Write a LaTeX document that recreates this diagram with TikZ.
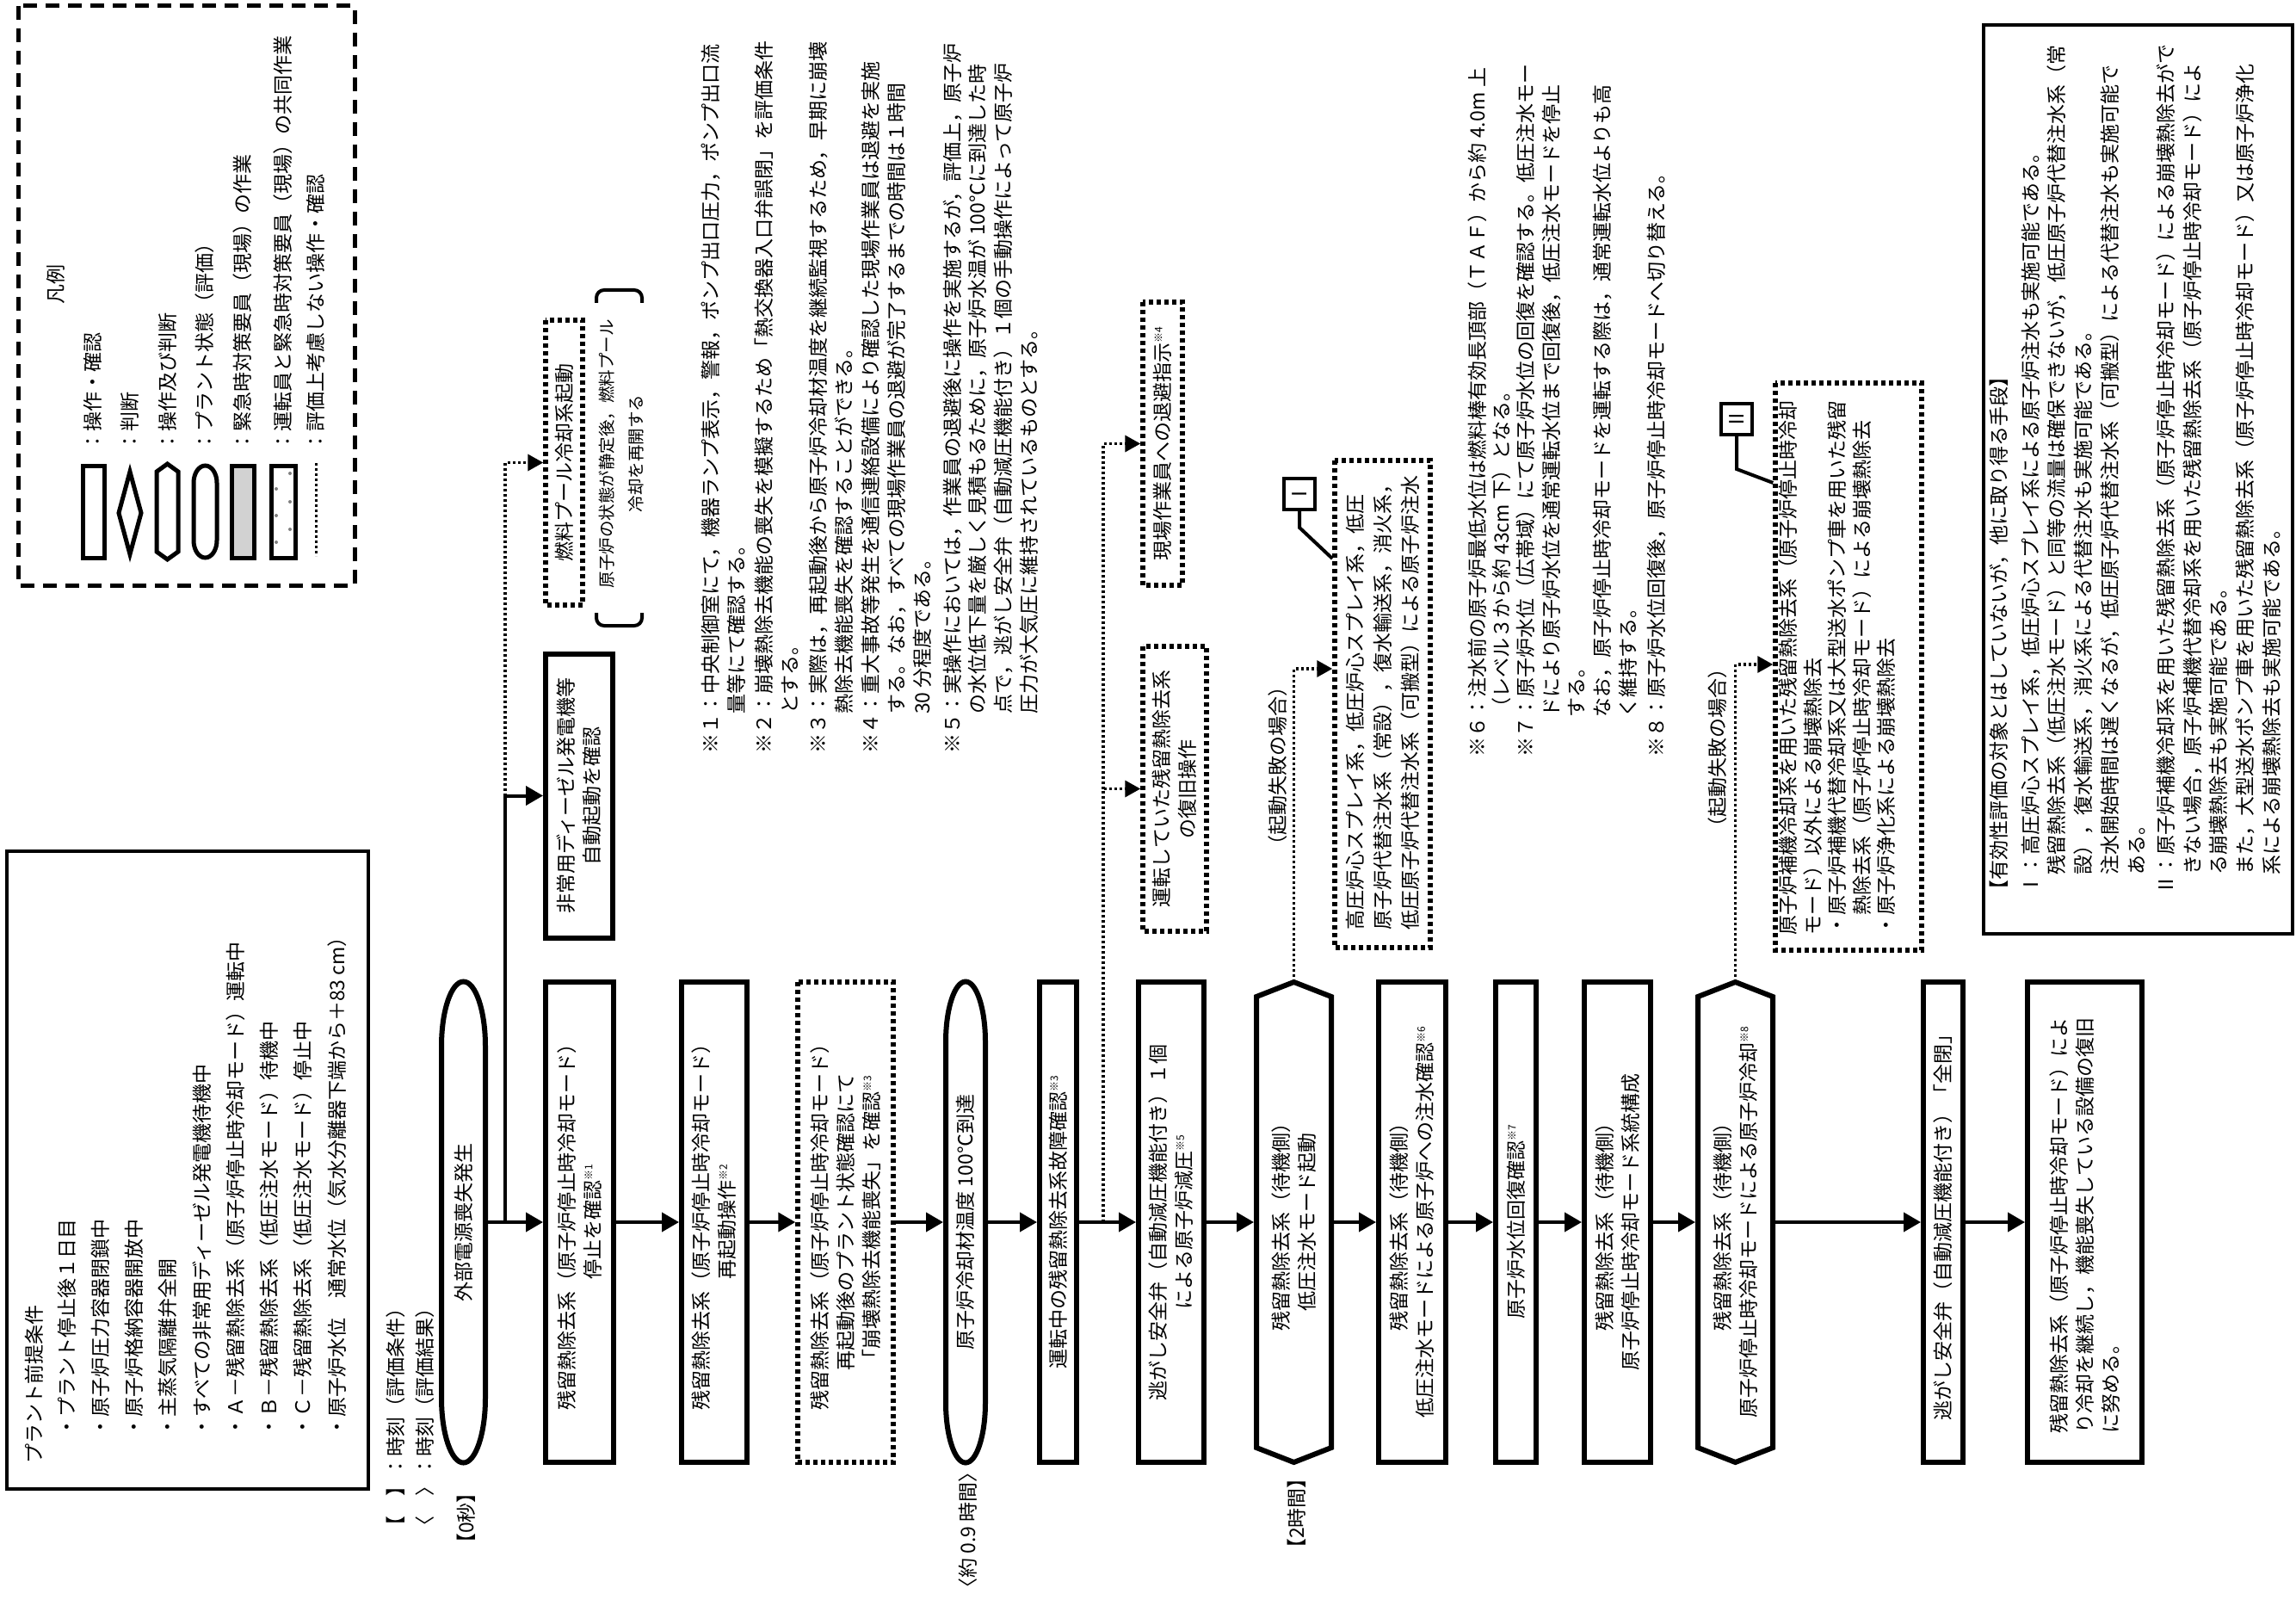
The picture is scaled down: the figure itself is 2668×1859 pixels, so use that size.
\documentclass[tikz,border=0pt]{standalone}
\usepackage{fontspec}
\setmainfont{Noto Sans CJK JP}
\usetikzlibrary{arrows.meta}
\XeTeXlinebreaklocale "ja"
\XeTeXlinebreakskip=0pt plus 4pt
\newcommand{\nref}[1]{\raisebox{9pt}{\fontsize{12}{12}\selectfont ※#1}}
\newcommand{\ovalbox}[5]{\draw[outline] (#1-#3,#2-#4) -- (#1-#3,#2+#4) arc[start angle=180,end angle=0,x radius=#3,y radius=#5] -- (#1+#3,#2-#4) arc[start angle=0,end angle=-180,x radius=#3,y radius=#5] -- cycle;}
\newcommand{\hexbox}[5]{\draw[outline] (#1-#3,#2-#4) -- (#1,#2-#4-#5) -- (#1+#3,#2-#4) -- (#1+#3,#2+#4) -- (#1,#2+#4+#5) -- (#1-#3,#2+#4) -- cycle;}
\begin{document}
\begin{tikzpicture}[x=1pt,y=-1pt,
  every node/.style={font=\fontsize{23}{30}\selectfont,inner sep=0pt},
  outline/.style={line width=6pt},
  flowbox/.style={rotate=90,draw,line width=6pt,minimum width=558pt,align=center},
  dotbox/.style={rotate=90,draw,line width=5.5pt,dash pattern=on 5pt off 4pt,align=center},
  bare/.style={rotate=90,outer sep=3pt,align=center},
  lbl/.style={rotate=90,anchor=west},
  txt/.style={rotate=90,anchor=north west,align=left},
  arr/.style={line width=4pt,-{Triangle[length=20pt,width=22pt]}},
  dotarr/.style={line width=3.5pt,dash pattern=on 3pt off 3pt,-{Triangle[length=18pt,width=19pt]}},
  leadline/.style={line width=4pt},
  legsym/.style={line width=5pt}]
  \useasboundingbox (0,0) rectangle (2668,1859);
  \fill[white] (0,0) rectangle (2668,1859);

  \draw[line width=5pt,dash pattern=on 16pt off 10pt] (21,7) rectangle (412,680);
  \node[bare] (legtitle) at (65,330) {凡例};
  \draw[legsym] (96,541) rectangle (121,648);
  \draw[legsym] (151,548) -- (164,596) -- (151,644) -- (138,596) -- cycle;
  \draw[legsym] (182,548) -- (194.5,539) -- (207,548) -- (207,641) -- (194.5,650) -- (182,641) -- cycle;
  \draw[legsym] (225,561) -- (225,628) arc[start angle=180,end angle=0,x radius=13.5,y radius=20] -- (252,561) arc[start angle=0,end angle=-180,x radius=13.5,y radius=20] -- cycle;
  \draw[legsym,fill=gray!35] (269,541) rectangle (295,648);
  \draw[legsym] (315,541) rectangle (343,648);
  \foreach \x/\y in {321/568,321/599,321/630,337/550,337/583,337/615}
    \fill[gray] (\x,\y) circle[radius=2];
  \draw[line width=3pt,dash pattern=on 3pt off 3pt] (367,538) -- (367,646);
  \foreach \x/\t [count=\i] in {108/操作・確認,151/判断,195/操作及び判断,238/プラント状態（評価）,282/緊急時対策要員（現場）の作業,329/運転員と緊急時対策要員（現場）の共同作業,367/評価上考慮しない操作・確認}
    \node[lbl] (leg\i) at (\x,525) {：\t};

  \draw[line width=4pt] (8,989) rectangle (428,1730);
  \node[txt] (pretitle) at (28.5,1701) {プラント前提条件};
  \node[txt,font=\fontsize{23}{39.25}\selectfont] (prelist) at (66.5,1670) {・プラント停止後１日目\\・原子炉圧力容器閉鎖中\\・原子炉格納容器開放中\\・主蒸気隔離弁全開\\・すべての非常用ディーゼル発電機待機中\\・Ａ－残留熱除去系（原子炉停止時冷却モード）運転中\\・Ｂ－残留熱除去系（低圧注水モード）待機中\\・Ｃ－残留熱除去系（低圧注水モード）停止中\\・原子炉水位　通常水位（気水分離器下端から＋83 cm）};
  \node[lbl] (keycond) at (460,1785) {【　】：時刻（評価条件）};
  \node[lbl] (keyres) at (494,1785) {〈　〉：時刻（評価結果）};
  \node[lbl] (t0) at (542,1805) {【0秒】};
  \node[lbl] (t09) at (1125,1857) {〈約 0.9 時間〉};
  \node[lbl] (t2h) at (1507,1811) {【2時間】};

  \node[bare,minimum width=559pt,minimum height=51pt] (ext) at (538.5,1420) {外部電源喪失発生};
  \ovalbox{538.5}{1420}{25.5}{204.5}{75}
  \node[flowbox,minimum height=79pt] (chkA) at (673.5,1420) {残留熱除去系（原子炉停止時冷却モード）\\停止を確認\nref{1}};
  \node[flowbox,minimum height=76pt] (restart) at (830,1420) {残留熱除去系（原子炉停止時冷却モード）\\再起動操作\nref{2}};
  \node[dotbox,minimum width=558pt,minimum height=111pt] (lossck) at (982.5,1420) {残留熱除去系（原子炉停止時冷却モード）\\再起動後のプラント状態確認にて\\「崩壊熱除去機能喪失」を確認\nref{3}};
  \node[bare,minimum width=559pt,minimum height=46pt] (temp) at (1122,1420) {原子炉冷却材温度 100℃到達};
  \ovalbox{1122}{1420}{23}{209.5}{70}
  \node[flowbox,minimum height=43pt] (failck) at (1229.5,1420) {運転中の残留熱除去系故障確認\nref{3}};
  \node[flowbox,minimum height=76pt] (srv) at (1361,1420) {逃がし安全弁（自動減圧機能付き）１個\\による原子炉減圧\nref{5}};
  \node[bare,minimum width=524pt,minimum height=87pt] (lpci) at (1503.5,1420) {残留熱除去系（待機側）\\低圧注水モード起動};
  \hexbox{1503.5}{1420}{43.5}{262}{17}
  \node[flowbox,minimum height=78pt] (injck) at (1641,1420) {残留熱除去系（待機側）\\低圧注水モードによる原子炉への注水確認\nref{6}};
  \node[flowbox,minimum height=47pt] (lvlck) at (1761.5,1420) {原子炉水位回復確認\nref{7}};
  \node[flowbox,minimum height=77pt] (sdccfg) at (1879.5,1420) {残留熱除去系（待機側）\\原子炉停止時冷却モード系統構成};
  \node[bare,minimum width=524pt,minimum height=87pt] (sdc) at (2016.5,1420) {残留熱除去系（待機側）\\原子炉停止時冷却モードによる原子炉冷却\nref{8}};
  \hexbox{2016.5}{1420}{43.5}{262}{17}
  \node[flowbox,minimum height=46pt] (srvclose) at (2258,1420) {逃がし安全弁（自動減圧機能付き）「全閉」};
  \node[flowbox,minimum height=133pt,align=left] (recover) at (2422.5,1420) {\hbox to 490pt{残留熱除去系（原子炉停止時冷却モード）によ}\\\hbox to 490pt{り冷却を継続し，機能喪失している設備の復旧}\\に努める。};

  \node[flowbox,minimum width=330pt,minimum height=78pt] (edg) at (673,924.5) {非常用ディーゼル発電機等\\自動起動を確認};
  \node[dotbox,minimum width=331pt,minimum height=43pt] (fpc) at (655.5,537.5) {燃料プール冷却系起動};
  \node[bare,font=\fontsize{19.5}{34}\selectfont] (fpcnote) at (722,527) {原子炉の状態が静定後，燃料プール\\冷却を再開する};
  \draw[line width=4pt,rounded corners=9pt] (693,352) -- (693,337) -- (746,337) -- (746,352);
  \draw[line width=4pt,rounded corners=9pt] (693,712) -- (693,727) -- (746,727) -- (746,712);
  \node[dotbox,minimum width=331pt,minimum height=74pt] (rhrfix) at (1365,916.5) {運転していた残留熱除去系\\の復旧操作};
  \node[dotbox,minimum width=329pt,minimum height=46pt] (evac) at (1351,515.5) {現場作業員への退避指示\nref{4}};
  \node[dotbox,minimum width=566pt,minimum height=111pt,align=left,font=\fontsize{23}{32}\selectfont] (altinj) at (1606.5,818) {\hbox to 525pt{高圧炉心スプレイ系，低圧炉心スプレイ系，低圧}\\\hbox to 525pt{原子炉代替注水系（常設），復水輸送系，消火系，}\\\hbox to 525pt{低圧原子炉代替注水系（可搬型）による原子炉注水}};
  \node[dotbox,minimum width=659pt,minimum height=170pt,align=left,font=\fontsize{23}{28.5}\selectfont] (altrhr) at (2148,774.5) {\hbox to 623pt{原子炉補機冷却系を用いた残留熱除去系（原子炉停止時冷却}\\モード）以外による崩壊熱除去\\\hbox to 623pt{・原子炉補機代替冷却系又は大型送水ポンプ車を用いた残留}\\\hspace*{23pt}熱除去系（原子炉停止時冷却モード）による崩壊熱除去\\・原子炉浄化系による崩壊熱除去\\\mbox{}};
  \node[rotate=90,draw,line width=4pt,minimum size=36pt] (markI) at (1510,574) {Ⅰ};
  \node[rotate=90,draw,line width=4pt,minimum size=36pt] (markII) at (2018,487) {Ⅱ};
  \node[lbl] (fail1) at (1485,994) {（起動失敗の場合）};
  \node[lbl] (fail2) at (1996,973) {（起動失敗の場合）};

  \node[txt] (note1) at (814.5,876) {\hbox to 838pt{※１：中央制御室にて，機器ランプ表示，警報，ポンプ出口圧力，ポンプ出口流}\\\hspace*{46pt}量等にて確認する。};
  \node[txt] (note2) at (876.5,876) {\hbox to 838pt{※２：崩壊熱除去機能の喪失を模擬するため「熱交換器入口弁誤閉」を評価条件}\\\hspace*{46pt}とする。};
  \node[txt] (note3) at (939.5,876) {\hbox to 838pt{※３：実際は，再起動後から原子炉冷却材温度を継続監視するため，早期に崩壊}\\\hspace*{46pt}熱除去機能喪失を確認することができる。};
  \node[txt] (note4) at (1000.5,876) {\hbox to 838pt{※４：重大事故等発生を通信連絡設備により確認した現場作業員は退避を実施}\\\hbox to 838pt{\hspace*{46pt}する。なお，すべての現場作業員の退避が完了するまでの時間は１時間}\\\hspace*{46pt}30 分程度である。};
  \node[txt,font=\fontsize{23}{29.7}\selectfont] (note5) at (1095.5,876) {\hbox to 838pt{※５：実操作においては，作業員の退避後に操作を実施するが，評価上，原子炉}\\\hbox to 838pt{\hspace*{46pt}の水位低下量を厳しく見積もるために，原子炉水温が\hspace{5pt}100℃に到達した時}\\\hbox to 838pt{\hspace*{46pt}点で，逃がし安全弁（自動減圧機能付き）１個の手動操作によって原子炉}\\\hspace*{46pt}圧力が大気圧に維持されているものとする。};
  \node[txt,font=\fontsize{23}{28}\selectfont] (note6) at (1705.5,880) {\hbox to 835pt{※６：注水前の原子炉最低水位は燃料棒有効長頂部（ＴＡＦ）から約\hspace{6pt}4.0m\hspace{6pt}上}\\\hspace*{46pt}（レベル３から約 43cm 下）となる。};
  \node[txt,font=\fontsize{23}{29.75}\selectfont] (note7) at (1761.5,880) {\hbox to 835pt{※７：原子炉水位（広帯域）にて原子炉水位の回復を確認する。低圧注水モー}\\\hbox to 835pt{\hspace*{46pt}ドにより原子炉水位を通常運転水位まで回復後，低圧注水モードを停止}\\\hspace*{46pt}する。\\\hbox to 835pt{\hspace*{46pt}なお，原子炉停止時冷却モードを運転する際は，通常運転水位よりも高}\\\hspace*{46pt}く維持する。};
  \node[txt] (note8) at (1913.5,880) {※８：原子炉水位回復後，原子炉停止時冷却モードへ切り替える。};

  \draw[line width=4pt] (2305,29) rectangle (2664,1085);
  \node[txt] (alttitle) at (2311.5,1046) {【有効性評価の対象とはしていないが，他に取り得る手段】};
  \node[txt,font=\fontsize{23}{30.75}\selectfont] (altI) at (2348.5,1040) {\hbox to 983pt{Ⅰ：高圧炉心スプレイ系，低圧炉心スプレイ系による原子炉注水も実施可能である。}\\\hbox to 983pt{\hspace*{23pt}残留熱除去系（低圧注水モード）と同等の流量は確保できないが，低圧原子炉代替注水系（常}\\\hspace*{23pt}設），復水輸送系，消火系による代替注水も実施可能である。\\\hbox to 983pt{\hspace*{23pt}注水開始時間は遅くなるが，低圧原子炉代替注水系（可搬型）による代替注水も実施可能で}\\\hspace*{23pt}ある。};
  \node[txt,font=\fontsize{23}{30.75}\selectfont] (altII) at (2505.5,1040) {\hbox to 983pt{Ⅱ：原子炉補機冷却系を用いた残留熱除去系（原子炉停止時冷却モード）による崩壊熱除去がで}\\\hbox to 983pt{\hspace*{23pt}きない場合，原子炉補機代替冷却系を用いた残留熱除去系（原子炉停止時冷却モード）によ}\\\hspace*{23pt}る崩壊熱除去も実施可能である。\\\hbox to 983pt{\hspace*{23pt}また，大型送水ポンプ車を用いた残留熱除去系（原子炉停止時冷却モード）又は原子炉浄化}\\\hspace*{23pt}系による崩壊熱除去も実施可能である。};

  \foreach \a/\b in {ext/chkA,chkA/restart,restart/lossck,lossck/temp,temp/failck,failck/srv,srv/lpci,lpci/injck,injck/lvlck,lvlck/sdccfg,sdccfg/sdc,sdc/srvclose,srvclose/recover}
    \draw[arr] (\a.south) -- (\b.north);
  \coordinate (br1) at (587,1420);
  \coordinate (br2) at (1282,1420);
  \coordinate (tipA) at (1503.5,1141);
  \coordinate (tipB) at (2016.5,1141);
  \draw[arr] (br1) |- (edg.north);
  \draw[dotarr] (br1 |- edg.north) |- (fpc.north);
  \draw[dotarr] (br2) |- (rhrfix.north);
  \draw[dotarr] (br2 |- rhrfix.north) |- (evac.north);
  \draw[dotarr] (tipA) |- (altinj.north |- 0,777);
  \draw[dotarr] (tipB) |- (altrhr.north |- 0,772);
  \draw[leadline] (markI.west) -- ++(0,19) -- (altinj.north |- 0,649);
  \draw[leadline] (markII.west) -- ++(0,38) -- (altrhr.north |- 0,561);
\end{tikzpicture}
\end{document}
